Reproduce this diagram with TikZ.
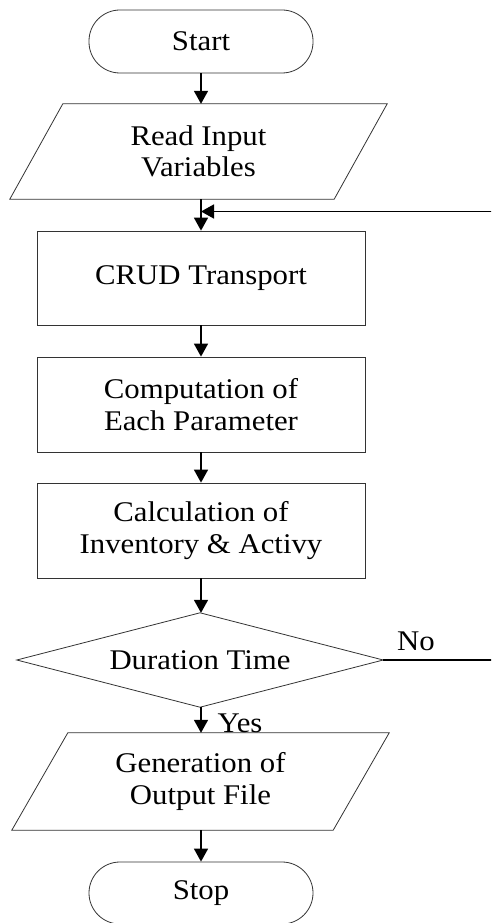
\documentclass[tikz,border=0pt]{standalone}
\usepackage{fontspec}
\setmainfont{Liberation Serif}[FakeStretch=1.08]
\usetikzlibrary{arrows.meta,calc}
\begin{document}
\begin{tikzpicture}[x=1pt,y=-1pt,
  every node/.style={font=\fontsize{28.5}{31.5}\selectfont, align=center, inner sep=0pt},
  shapeline/.style={draw=black!80, line width=0.8pt},
  term/.style={shapeline, rounded corners=31pt, minimum width=224pt},
  procbox/.style={shapeline, minimum width=328pt, minimum height=95pt},
  ghost/.style={minimum width=377pt},
  arr/.style={line width=1.6pt, -{Triangle[length=13pt,width=14pt]}},
  plain/.style={line width=1.6pt},
  lbl/.style={font=\fontsize{28.5}{31.5}\selectfont}]
\useasboundingbox (0,0) rectangle (491,923);
\clip (0,0) rectangle (491,923);
% nodes
\node[term, minimum height=63pt] (start) at (201,41.5) {Start};
\node[ghost, minimum height=95pt] (read) at (198.5,151.5) {Read Input\\Variables};
\draw[shapeline] (read.south west) -- ($(read.south east)+(-53,0)$) -- (read.north east) -- ($(read.north west)+(53,0)$) -- cycle;
\node[procbox, minimum height=94pt] (crud) at (201,278) {CRUD Transport};
\node[procbox] (comp) at (201,404.5) {Computation of\\Each Parameter};
\node[procbox] (calc) at (201,530.5) {Calculation of\\Inventory \& Activy};
\node[minimum width=366pt, minimum height=94pt] (dur) at (200,660) {Duration Time};
\draw[shapeline] (dur.west) -- (dur.north) -- (dur.east) -- (dur.south) -- cycle;
\node[ghost, minimum height=97pt] (gen) at (200.5,781.5) {Generation of\\Output File};
\draw[shapeline] (gen.south west) -- ($(gen.south east)+(-56,0)$) -- (gen.north east) -- ($(gen.north west)+(56,0)$) -- cycle;
\node[term, minimum height=62pt] (stop) at (201,893) {Stop};
% labels
\node[lbl] (no) at (416,641) {No};
\node[lbl] (yes) at (240,723) {Yes};
% loop coordinates
\coordinate (cr) at (497,660);
\coordinate (ct) at (497,211.5);
\coordinate (cj) at (201,211.5);
% connectors
\draw[arr] (start.south) -- (start.south |- read.north);
\draw[arr] (201,199) -- (crud.north);
\draw[arr] (crud.south) -- (comp.north);
\draw[arr] (comp.south) -- (calc.north);
\draw[arr] (calc.south) -- (calc.south |- dur.north);
\draw[arr] (calc.south |- dur.south) -- (calc.south |- gen.north);
\draw[arr] (calc.south |- gen.south) -- (stop.north);
\draw[plain] (dur.east) -- (cr) -- (ct);
\draw[arr] (ct) -- (cj);
\end{tikzpicture}
\end{document}
